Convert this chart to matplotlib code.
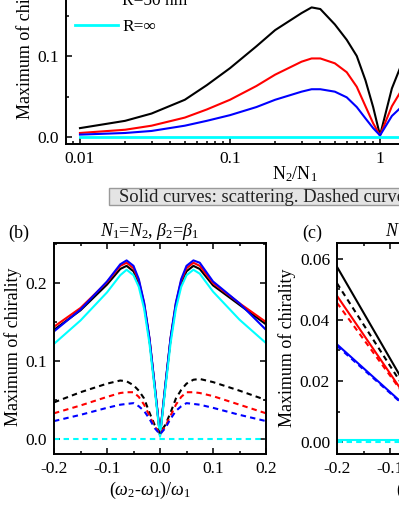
import matplotlib
matplotlib.use('Agg')
import matplotlib.pyplot as plt
from matplotlib.ticker import MultipleLocator, FixedLocator, FixedFormatter, LogLocator, NullFormatter
from matplotlib.patches import Rectangle

# ---- panel (a): maximum chirality vs N2/N1 ----
ratio_a = [0.01, 0.02, 0.03, 0.05, 0.07, 0.1, 0.15, 0.2, 0.3, 0.35, 0.4, 0.5, 0.6,
           0.7, 0.8, 0.9, 1.0, 1.2, 1.5, 2, 3, 5, 10, 20, 50, 100]
black_a = [0.011, 0.020, 0.029, 0.046, 0.064, 0.085, 0.112, 0.132, 0.153, 0.160, 0.158,
           0.139, 0.120, 0.100, 0.070, 0.037, 0.002, 0.060, 0.105, 0.139, 0.156, 0.132,
           0.085, 0.046, 0.020, 0.011]
red_a = [0.005, 0.009, 0.014, 0.024, 0.034, 0.046, 0.063, 0.077, 0.093, 0.097, 0.097,
         0.091, 0.080, 0.062, 0.038, 0.017, 0.002, 0.038, 0.068, 0.091, 0.095, 0.077,
         0.046, 0.024, 0.009, 0.005]
blue_a = [0.003, 0.005, 0.0075, 0.014, 0.020, 0.027, 0.037, 0.046, 0.056, 0.059, 0.059,
          0.056, 0.049, 0.037, 0.023, 0.011, 0.002, 0.026, 0.043, 0.056, 0.058, 0.046,
          0.027, 0.014, 0.005, 0.003]
cyan_a = [0.0] * len(ratio_a)
labels_a = ['R=10 nm', 'R=30 nm', 'R=50 nm', 'R=\u221e']

# ---- panel (b): N1=N2, beta2=beta1 ----
dw_b = [-0.2, -0.15, -0.1, -0.075, -0.063, -0.05, -0.04, -0.03, -0.02, -0.01, 0.0,
        0.01, 0.02, 0.03, 0.04, 0.05, 0.063, 0.075, 0.1, 0.15, 0.2]
black_b = [0.140, 0.165, 0.198, 0.218, 0.222, 0.215, 0.200, 0.172, 0.128, 0.068, 0.005,
           0.068, 0.128, 0.172, 0.200, 0.215, 0.222, 0.218, 0.197, 0.172, 0.147]
red_b = [0.144, 0.168, 0.201, 0.222, 0.226, 0.219, 0.203, 0.174, 0.129, 0.068, 0.005,
         0.068, 0.129, 0.174, 0.203, 0.219, 0.226, 0.222, 0.200, 0.174, 0.150]
blue_b = [0.138, 0.166, 0.202, 0.224, 0.229, 0.222, 0.205, 0.175, 0.130, 0.069, 0.005,
          0.069, 0.130, 0.175, 0.205, 0.222, 0.229, 0.226, 0.202, 0.174, 0.140]
cyan_b = [0.122, 0.152, 0.188, 0.210, 0.217, 0.210, 0.195, 0.167, 0.123, 0.064, 0.003,
          0.064, 0.123, 0.167, 0.195, 0.210, 0.217, 0.212, 0.189, 0.153, 0.123]
black_b_d = [0.047, 0.060, 0.071, 0.075, 0.074, 0.069, 0.062, 0.052, 0.034, 0.018, 0.008,
             0.018, 0.034, 0.052, 0.063, 0.071, 0.076, 0.077, 0.073, 0.062, 0.050]
red_b_d = [0.033, 0.043, 0.054, 0.059, 0.060, 0.060, 0.054, 0.044, 0.030, 0.016, 0.007,
           0.016, 0.030, 0.044, 0.054, 0.060, 0.060, 0.059, 0.055, 0.044, 0.033]
blue_b_d = [0.023, 0.031, 0.040, 0.044, 0.045, 0.046, 0.042, 0.036, 0.026, 0.014, 0.006,
            0.014, 0.026, 0.036, 0.042, 0.046, 0.045, 0.044, 0.040, 0.031, 0.023]
cyan_b_d = [0.0] * len(dw_b)

# ---- panel (c) ----
dw_c = [-0.2, -0.15, -0.1, -0.05, 0.0, 0.05, 0.1, 0.15, 0.2]
black_c = [0.0574, 0.0424, 0.0274, 0.0124, 0.001, 0.0124, 0.0274, 0.0424, 0.0574]
red_c = [0.0479, 0.0352, 0.0225, 0.0098, 0.001, 0.0098, 0.0225, 0.0352, 0.0479]
blue_c = [0.0320, 0.0242, 0.0164, 0.0086, 0.001, 0.0086, 0.0164, 0.0242, 0.0320]
cyan_c = [0.0007] * len(dw_c)
black_c_d = [0.0520, 0.0385, 0.0250, 0.0115, 0.001, 0.0115, 0.0250, 0.0385, 0.0520]
red_c_d = [0.0456, 0.0337, 0.0218, 0.0099, 0.001, 0.0099, 0.0218, 0.0337, 0.0456]
blue_c_d = [0.0315, 0.0238, 0.0161, 0.0084, 0.001, 0.0084, 0.0161, 0.0238, 0.0315]
cyan_c_d = [0.0] * len(dw_c)

colors = ['black', 'red', 'blue', 'cyan']

plt.rcParams['font.family'] = 'Liberation Serif'
plt.rcParams['mathtext.fontset'] = 'custom'
plt.rcParams['mathtext.rm'] = 'Liberation Serif'
plt.rcParams['mathtext.it'] = 'Liberation Serif:italic'
plt.rcParams['axes.unicode_minus'] = False
plt.rcParams['axes.linewidth'] = 1.4

W, H = 399, 516
fig = plt.figure(figsize=(W / 100, H / 100), dpi=100)


def px_box(l, t, r, b):
    return [l / W, 1 - b / H, (r - l) / W, (b - t) / H]


def style(ax):
    ax.tick_params(which='both', direction='in', top=True, right=True,
                   labelsize=12.5, width=1.1, pad=5)
    ax.tick_params(which='major', length=4)
    ax.tick_params(which='minor', length=2.5)


lw = 1.5
dash = (0, (2.6, 2.0))

# panel (a)
ax_a = fig.add_axes(px_box(66, -25, 693, 144))
lines = []
for y, c in zip([black_a, red_a, blue_a, cyan_a], colors):
    ln, = ax_a.plot(ratio_a, y, color=c, lw=lw if c != 'cyan' else 2.0)
    lines.append(ln)
ax_a.set_xscale('log')
ax_a.set_xlim(0.00807, 122)
ax_a.set_ylim(-0.0086, 0.2)
ax_a.xaxis.set_major_locator(FixedLocator([0.01, 0.1, 1, 10, 100]))
ax_a.xaxis.set_major_formatter(FixedFormatter(['0.01', '0.1', '1', '10', '100']))
ax_a.xaxis.set_minor_locator(LogLocator(base=10, subs=range(2, 10)))
ax_a.xaxis.set_minor_formatter(NullFormatter())
ax_a.yaxis.set_major_locator(MultipleLocator(0.1))
ax_a.yaxis.set_minor_locator(MultipleLocator(0.05))
ax_a.yaxis.set_major_formatter(plt.FuncFormatter(lambda v, p: '%.1f' % v))
style(ax_a)
ax_a.legend(lines, labels_a, loc='lower left', bbox_to_anchor=(75 / W, 1 - 35 / H),
            bbox_transform=fig.transFigure, frameon=False, fontsize=12.5,
            handlelength=2.47, handletextpad=0.25, labelspacing=0.58,
            borderpad=0, borderaxespad=0)
fig.text(295 / W, 1 - 174 / H, r'N$_2$/N$_1$', ha='center', va='center', fontsize=13)
fig.text(25 / W, 1 - 40 / H, 'Maximum of chirality', rotation=90,
         ha='center', va='center', fontsize=13)

# note box
fig.patches.append(Rectangle((109 / W, 1 - 205 / H), 400 / W, 17 / H,
                             transform=fig.transFigure, facecolor='#e4e4e4',
                             edgecolor='#9a9a9a', lw=1.0))
fig.text(119 / W, 1 - 202 / H, 'Solid curves: scattering. Dashed curves: absorption.',
         ha='left', va='baseline', fontsize=13.4, color='#222222')

# panel (b)
ax_b = fig.add_axes(px_box(54, 243, 266, 454))
for y, c in zip([black_b, red_b, blue_b, cyan_b], colors):
    ax_b.plot(dw_b, y, color=c, lw=lw)
for y, c in zip([black_b_d, red_b_d, blue_b_d, cyan_b_d], colors):
    ax_b.plot(dw_b, y, color=c, lw=lw, ls=dash)
ax_b.set_xlim(-0.2, 0.2)
ax_b.set_ylim(-0.0192, 0.2513)
ax_b.xaxis.set_major_locator(MultipleLocator(0.1))
ax_b.xaxis.set_minor_locator(MultipleLocator(0.05))
ax_b.yaxis.set_major_locator(MultipleLocator(0.1))
ax_b.yaxis.set_minor_locator(MultipleLocator(0.05))
ax_b.xaxis.set_major_formatter(plt.FuncFormatter(lambda v, p: '%.1f' % v))
ax_b.yaxis.set_major_formatter(plt.FuncFormatter(lambda v, p: '%.1f' % v))
style(ax_b)
fig.text(8 / W, 1 - 233 / H, '(b)', ha='left', va='center', fontsize=13)
fig.text(150 / W, 1 - 232 / H, r'$N_1$=$N_2$, $\beta_2$=$\beta_1$',
         ha='center', va='center', fontsize=13)
fig.text(150 / W, 1 - 490 / H, r'($\omega_2$-$\omega_1$)/$\omega_1$',
         ha='center', va='center', fontsize=13)
fig.text(13 / W, 1 - 347 / H, 'Maximum of chirality', rotation=90,
         ha='center', va='center', fontsize=13)

# panel (c)
ax_c = fig.add_axes(px_box(337, 243, 549, 454))
for y, c in zip([black_c, red_c, blue_c, cyan_c], colors):
    ax_c.plot(dw_c, y, color=c, lw=lw)
for y, c in zip([black_c_d, red_c_d, blue_c_d, cyan_c_d], colors):
    ax_c.plot(dw_c, y, color=c, lw=lw, ls=dash)
ax_c.set_xlim(-0.2, 0.2)
ax_c.set_ylim(-0.0039, 0.0652)
ax_c.xaxis.set_major_locator(MultipleLocator(0.1))
ax_c.xaxis.set_minor_locator(MultipleLocator(0.05))
ax_c.yaxis.set_major_locator(MultipleLocator(0.02))
ax_c.yaxis.set_minor_locator(MultipleLocator(0.01))
ax_c.xaxis.set_major_formatter(plt.FuncFormatter(lambda v, p: '%.1f' % v))
ax_c.yaxis.set_major_formatter(plt.FuncFormatter(lambda v, p: '%.2f' % v))
style(ax_c)
fig.text(302 / W, 1 - 233 / H, '(c)', ha='left', va='center', fontsize=13)
fig.text(385 / W, 1 - 232 / H, r'$N_1$=$N_2$, $\beta_2$=-$\beta_1$',
         ha='left', va='center', fontsize=13)
fig.text(396 / W, 1 - 490 / H, r'($\omega_2$-$\omega_1$)/$\omega_1$',
         ha='left', va='center', fontsize=13)
fig.text(287 / W, 1 - 348 / H, 'Maximum of chirality', rotation=90,
         ha='center', va='center', fontsize=13)

fig.savefig('out.png', dpi=100)
